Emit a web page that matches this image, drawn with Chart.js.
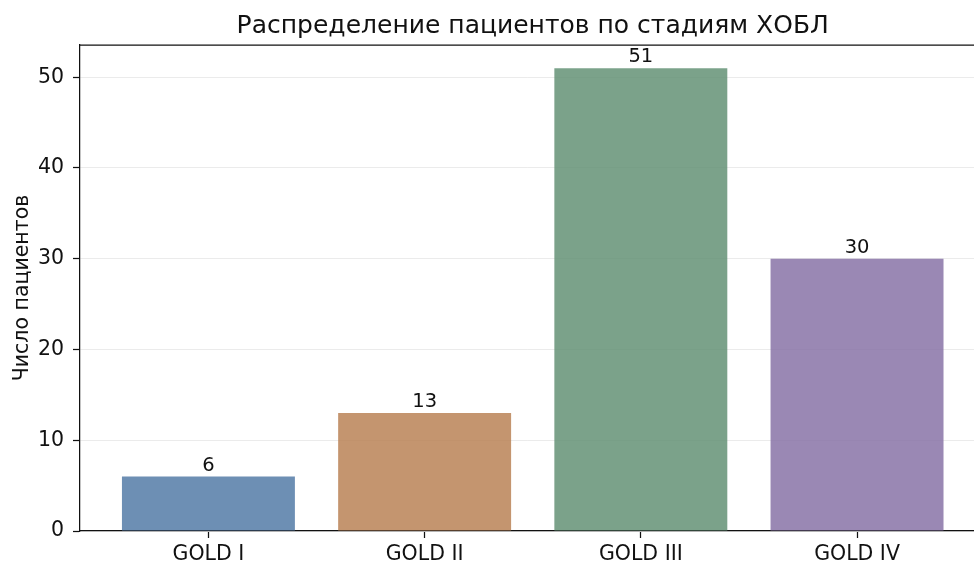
<!DOCTYPE html>
<html>
<head>
<meta charset="utf-8">
<script src="https://cdn.jsdelivr.net/npm/chart.js@4/dist/chart.umd.min.js"></script>
<style>
html,body{margin:0;padding:0;background:#fff;overflow:hidden}
</style>
</head>
<body>
<canvas id="stageChart" width="974" height="563"></canvas>
<script>
const titleText = "Распределение пациентов по стадиям ХОБЛ"
const yLabel = "Число пациентов"
const stages = ["GOLD I", "GOLD II", "GOLD III", "GOLD IV"]
const counts = [6, 13, 51, 30]
const yTicks = [0, 10, 20, 30, 40, 50]
const barColors = ["rgba(84,123,167,0.85)", "rgba(186,131,86,0.85)", "rgba(100,146,118,0.85)", "rgba(136,115,167,0.85)"]

const font = '"DejaVu Sans", sans-serif'

// spine on top, title over the axes, numbers above bars
const extras = {
id: "extras",
afterDatasetsDraw(chart){
const ctx = chart.ctx
const a = chart.chartArea
ctx.save()
ctx.strokeStyle = "#111"
ctx.lineWidth = 1.25
ctx.beginPath()
ctx.moveTo(a.left, a.top)
ctx.lineTo(a.right, a.top)
ctx.stroke()

ctx.fillStyle = "#111"
ctx.textAlign = "center"
ctx.textBaseline = "alphabetic"
ctx.font = "25px " + font
ctx.fillText(titleText, chart.scales.x.getPixelForValue(1.5), 33)

ctx.font = "19.5px " + font
chart.getDatasetMeta(0).data.forEach((bar, i) => {
ctx.fillText(String(counts[i]), bar.x, bar.y - 6)
})
ctx.restore()
}
}

new Chart(document.getElementById("stageChart"), {
type: "bar",
data: {
datasets: [{
data: stages.map((s, i) => ({x: i, y: counts[i]})),
backgroundColor: barColors,
borderWidth: 0,
barPercentage: 0.8,
categoryPercentage: 1
}]
},
options: {
responsive: false,
animation: false,
layout: {padding: {top: 45, left: 0, right: 0, bottom: 0}},
plugins: {legend: {display: false}, tooltip: {enabled: false}, title: {display: false}},
scales: {
x: {
type: "linear",
offset: false,
min: -0.594,
max: 3.541,
afterFit(scale){ scale.height = 32 },
afterBuildTicks(scale){ scale.ticks = stages.map((s, i) => ({value: i})) },
grid: {offset: false, drawOnChartArea: false, tickLength: 7, tickColor: "#111", tickWidth: 1.25},
border: {color: "#111", width: 1.25},
ticks: {
callback: v => stages[v],
font: {family: font, size: 20.5},
color: "#111",
padding: 4,
maxRotation: 0
}
},
y: {
min: 0,
max: 53.55,
afterFit(scale){ scale.width = 80 },
afterBuildTicks(scale){ scale.ticks = yTicks.map(v => ({value: v})) },
grid: {color: "#ebebeb", lineWidth: 1, tickLength: 7, tickColor: "#111", tickWidth: 1.25},
border: {color: "#111", width: 1.25},
ticks: {font: {family: font, size: 20.5}, color: "#111", padding: 9},
title: {display: true, text: yLabel, font: {family: font, size: 20.5}, color: "#111", padding: {top: 10, bottom: 0}}
}
}
},
plugins: [extras]
})
</script>
</body>
</html>
